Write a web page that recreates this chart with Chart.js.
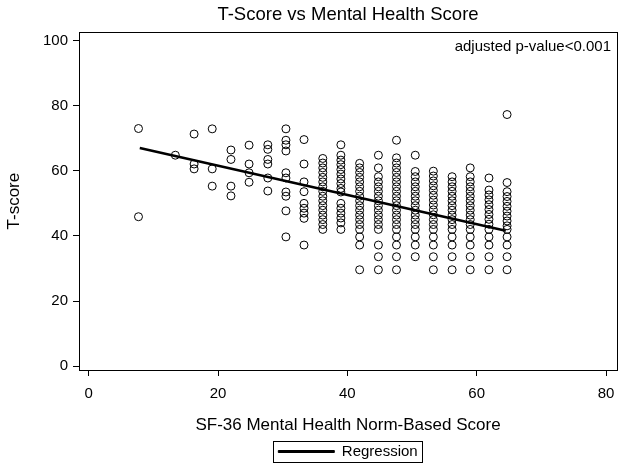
<!DOCTYPE html>
<html>
<head>
<meta charset="utf-8">
<script src="https://cdn.jsdelivr.net/npm/chart.js@4.4.0/dist/chart.umd.min.js"></script>
<style>
html, body { margin:0; padding:0; background:#fff; }
</style>
</head>
<body>
<canvas id="tChart" width="629" height="469"></canvas>
<script>
// SF-36 mental health columns (x) and the T-scores found in each column
var mhScores = [7.7, 13.4, 16.3, 19.1, 22.0, 24.8, 27.7, 30.5, 33.3, 36.2, 39.0, 41.9, 44.8, 47.6, 50.5, 53.3, 56.2, 59.0, 61.9, 64.7];

var tScores = [
	[73.0, 45.9],
	[64.8],
	[71.3, 62.1, 60.6],
	[72.9, 60.6, 55.3],
	[66.4, 63.5, 55.3, 52.3],
	[67.9, 62.1, 59.4, 56.5],
	[68.0, 66.6, 63.5, 62.1, 57.8, 53.8],
	[72.9, 69.4, 68.0, 66.1, 59.4, 57.8, 53.5, 52.2, 47.7, 39.7],
	[69.6, 62.1, 56.6, 53.6, 50.0, 48.5, 47.0, 45.4, 37.2],
	[63.8, 62.4, 60.9, 59.5, 58.0, 56.6, 55.1, 53.7, 52.2, 50.8, 49.3, 47.9, 46.4, 45.0, 43.5, 42.0],
	[68.0, 64.8, 63.3, 61.9, 60.4, 59.0, 57.5, 56.1, 54.6, 53.5, 50.0, 48.5, 47.0, 45.5, 44.0, 42.0],
	[62.3, 60.9, 59.5, 58.0, 56.6, 55.1, 53.7, 52.2, 50.8, 49.3, 47.9, 46.4, 45.0, 43.5, 42.0, 39.7, 37.2, 29.6],
	[64.8, 60.9, 58.2, 56.6, 55.1, 53.7, 52.2, 50.8, 49.3, 47.9, 46.4, 45.0, 43.5, 42.0, 37.2, 33.6, 29.6],
	[69.4, 64.0, 62.4, 60.9, 59.5, 58.0, 56.6, 55.1, 53.7, 52.2, 50.8, 49.3, 47.9, 46.4, 45.0, 43.5, 42.0, 39.7, 37.2, 33.6, 29.6],
	[64.8, 59.8, 58.2, 56.6, 55.1, 53.7, 52.2, 50.8, 49.3, 47.9, 46.4, 45.0, 43.5, 42.0, 39.7, 37.2, 33.6],
	[59.9, 58.4, 56.9, 55.4, 54.0, 52.5, 51.0, 49.5, 48.0, 46.5, 45.0, 43.5, 42.0, 39.7, 37.2, 33.6, 29.6],
	[58.2, 56.6, 55.1, 53.7, 52.2, 50.8, 49.3, 47.9, 46.4, 45.0, 43.5, 42.0, 39.7, 37.2, 33.6, 29.6],
	[60.9, 58.2, 56.6, 55.1, 53.7, 52.2, 50.8, 49.3, 47.9, 46.4, 45.0, 43.5, 42.0, 39.7, 37.2, 33.6, 29.6],
	[57.8, 54.1, 52.6, 51.1, 49.6, 48.1, 46.6, 45.1, 43.6, 42.0, 39.7, 37.2, 33.6, 29.6],
	[77.3, 56.4, 53.6, 52.1, 50.6, 49.1, 47.6, 46.1, 44.6, 43.1, 42.0, 39.7, 37.2, 33.6, 29.6]
];

// regression line end points
var regX = [7.9, 64.5];
var regY = [67.0, 41.6];

var xTicks = [0, 20, 40, 60, 80];
var yTicks = [0, 20, 40, 60, 80, 100];

var FONT = '"Liberation Sans", Arial, sans-serif';
Chart.defaults.font.family = FONT;
Chart.defaults.color = '#000';

var points = [];
for (var i = 0; i < mhScores.length; i++) {
	for (var j = 0; j < tScores[i].length; j++) {
		points.push({x: mhScores[i], y: tScores[i][j]});
	}
}
var regLine = [];
for (var k = 0; k < regX.length; k++) regLine.push({x: regX[k], y: regY[k]});

// box round plot, p-value note, border round legend
var framePlugin = {
	id: 'frame',
	afterDraw: function(chart) {
		var ctx = chart.ctx, a = chart.chartArea;
		ctx.save();
		ctx.strokeStyle = '#000';
		ctx.lineWidth = 1;
		ctx.strokeRect(Math.round(a.left) + 0.5, Math.round(a.top) + 0.5, Math.round(a.right - a.left), Math.round(a.bottom - a.top));
		ctx.font = '15px ' + FONT;
		ctx.fillStyle = '#000';
		ctx.textAlign = 'right';
		ctx.textBaseline = 'middle';
		ctx.fillText('adjusted p-value<0.001', a.right - 6, a.top + 15);
		var hb = chart.legend.legendHitBoxes[0];
		if (hb) {
			ctx.strokeRect(Math.round(hb.left - 5) + 0.5, Math.round(hb.top - 3) + 0.5, Math.round(hb.width + 10), Math.round(hb.height + 6));
		}
		ctx.restore();
	}
};

var ctx = document.getElementById('tChart').getContext('2d');
var myChart = new Chart(ctx, {
	type: 'scatter',
	data: {
		datasets: [{
			label: 'T-score',
			data: points,
			pointStyle: 'circle',
			pointRadius: 4,
			pointHoverRadius: 4,
			borderWidth: 1,
			borderColor: '#000',
			backgroundColor: 'rgba(0,0,0,0)'
		}, {
			label: 'Regression',
			data: regLine,
			showLine: true,
			pointRadius: 0,
			borderWidth: 2.5,
			borderColor: '#000',
			backgroundColor: '#000'
		}]
	},
	options: {
		responsive: false,
		animation: false,
		devicePixelRatio: 1,
		layout: {padding: {left: 0, right: 12, top: 0, bottom: 0}},
		plugins: {
			tooltip: {enabled: false},
			title: {
				display: true,
				text: 'T-Score vs Mental Health Score',
				fullSize: false,
				color: '#000',
				font: {size: 18.5, weight: 'normal'},
				padding: {top: 4, bottom: 6}
			},
			legend: {
				position: 'bottom',
				fullSize: false,
				labels: {
					boxWidth: 56,
					boxHeight: 2,
					padding: 6,
					color: '#000',
					font: {size: 15},
					generateLabels: function(chart) {
						var items = Chart.defaults.plugins.legend.labels.generateLabels(chart);
						items.forEach(function(it) { it.lineWidth = 1; });
						return items.filter(function(it) { return it.datasetIndex === 1; });
					}
				}
			}
		},
		scales: {
			x: {
				type: 'linear',
				min: -1.5,
				max: 81.7,
				afterBuildTicks: function(scale) {
					scale.ticks = xTicks.map(function(v) { return {value: v}; });
				},
				afterFit: function(scale) { scale.height = 68; },
				grid: {drawOnChartArea: false, drawTicks: true, tickLength: 6, color: '#000'},
				border: {display: false},
				ticks: {padding: 9, font: {size: 15}, color: '#000', maxRotation: 0},
				title: {
					display: true,
					text: 'SF-36 Mental Health Norm-Based Score',
					font: {size: 17},
					color: '#000',
					padding: {top: 0, bottom: 2}
				}
			},
			y: {
				type: 'linear',
				min: -1.2,
				max: 102.6,
				afterBuildTicks: function(scale) {
					scale.ticks = yTicks.map(function(v) { return {value: v}; });
				},
				afterFit: function(scale) { scale.width = 79; },
				grid: {drawOnChartArea: false, drawTicks: true, tickLength: 6, color: '#000'},
				border: {display: false},
				ticks: {padding: 5, font: {size: 15}, color: '#000'},
				title: {
					display: true,
					text: 'T-score',
					font: {size: 17},
					color: '#000',
					padding: {top: 4, bottom: 0}
				}
			}
		}
	},
	plugins: [framePlugin]
});
</script>
</body>
</html>
